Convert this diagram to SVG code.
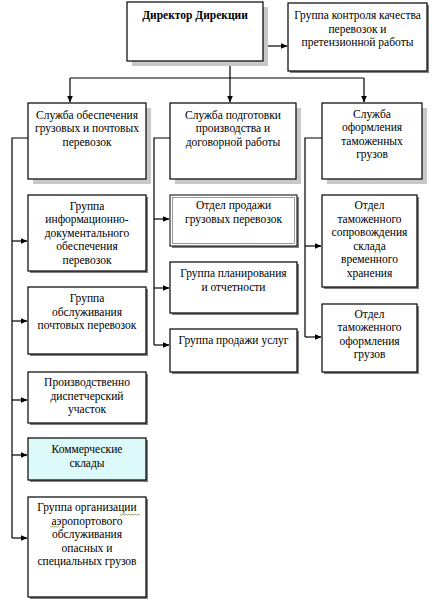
<svg xmlns="http://www.w3.org/2000/svg" width="435" height="602" viewBox="0 0 435 602">
<style>
.box{fill:#fff;stroke:#000;stroke-width:1.2}
.sh1{fill:#c8c8c8}
.sh2{fill:#808080}
.t{font-family:"Liberation Serif","Times New Roman",serif;font-size:11.5px;fill:#000;text-anchor:middle;dominant-baseline:central}
.b{font-weight:bold}
.c{fill:none;stroke:#000;stroke-width:1.2}
.sq{fill:none;stroke:#8a8a40;stroke-width:0.8}
</style>
<defs>
<marker id="ah" markerWidth="7" markerHeight="6" refX="6.5" refY="3" orient="auto" markerUnits="userSpaceOnUse">
<path d="M0,0 L7,3 L0,6 Z" fill="#000"/>
</marker>
</defs>
<rect width="435" height="602" fill="#fff"/>

<g id="connectors">
<path class="c" d="M263,46 H287" marker-end="url(#ah)"/>
<path class="c" d="M230,61 V78 M70,78 H364"/>
<path class="c" d="M70,78 V102" marker-end="url(#ah)"/>
<path class="c" d="M230,78 V102" marker-end="url(#ah)"/>
<path class="c" d="M364,78 V102" marker-end="url(#ah)"/>
<path class="c" d="M28,138 H12 V538"/>
<path class="c" d="M12,241 H27" marker-end="url(#ah)"/>
<path class="c" d="M12,321 H27" marker-end="url(#ah)"/>
<path class="c" d="M12,400 H27" marker-end="url(#ah)"/>
<path class="c" d="M12,455 H27" marker-end="url(#ah)"/>
<path class="c" d="M12,538 H27" marker-end="url(#ah)"/>
<path class="c" d="M170,138 H154 V345"/>
<path class="c" d="M154,219 H169" marker-end="url(#ah)"/>
<path class="c" d="M154,288 H169" marker-end="url(#ah)"/>
<path class="c" d="M154,345 H169" marker-end="url(#ah)"/>
<path class="c" d="M322,138 H305 V337"/>
<path class="c" d="M305,246 H321" marker-end="url(#ah)"/>
<path class="c" d="M305,337 H321" marker-end="url(#ah)"/>
</g>

<g id="director">
<rect class="sh1" x="132" y="7" width="136" height="59"/>
<rect class="box" x="127" y="2" width="136" height="59"/>
<text class="t b" x="195" y="15">Директор Дирекции</text>
</g>
<g id="control">
<rect class="sh2" x="290" y="5" width="139" height="68"/>
<rect class="box" x="288" y="3" width="139" height="68"/>
<text class="t" x="357.5" y="15">Группа контроля качества</text>
<text class="t" x="357.5" y="28.5">перевозок и</text>
<text class="t" x="357.5" y="42">претензионной работы</text>
</g>

<g id="s1">
<rect class="sh1" x="33" y="108" width="118" height="76"/>
<rect class="box" x="28" y="103" width="118" height="76"/>
<text class="t" x="87" y="114.5">Служба обеспечения</text>
<text class="t" x="87" y="128">грузовых и почтовых</text>
<text class="t" x="87" y="141.5">перевозок</text>
</g>
<g id="s2">
<rect class="sh1" x="175" y="108" width="126" height="76"/>
<rect class="box" x="170" y="103" width="126" height="76"/>
<text class="t" x="233" y="114.5">Служба подготовки</text>
<text class="t" x="233" y="128">производства и</text>
<text class="t" x="233" y="141.5">договорной работы</text>
</g>
<g id="s3">
<rect class="sh1" x="327" y="108" width="100" height="76"/>
<rect class="box" x="322" y="103" width="100" height="76"/>
<text class="t" x="372" y="113.5">Служба</text>
<text class="t" x="372" y="127">оформления</text>
<text class="t" x="372" y="140.5">таможенных</text>
<text class="t" x="372" y="154">грузов</text>
</g>

<g id="g1">
<rect class="sh2" x="30" y="197" width="118" height="76"/>
<rect class="box" x="28" y="195" width="118" height="76"/>
<text class="t" x="87" y="205.5">Группа</text>
<text class="t" x="87" y="219">информационно-</text>
<text class="t" x="87" y="232.5">документального</text>
<text class="t" x="87" y="246">обеспечения</text>
<text class="t" x="87" y="259.5">перевозок</text>
</g>
<g id="g2">
<rect class="sh2" x="30" y="289" width="118" height="67"/>
<rect class="box" x="28" y="287" width="118" height="67"/>
<text class="t" x="87" y="298">Группа</text>
<text class="t" x="87" y="311.5">обслуживания</text>
<text class="t" x="87" y="325">почтовых перевозок</text>
</g>
<g id="p1">
<rect class="sh2" x="30" y="374" width="118" height="51"/>
<rect class="box" x="28" y="372" width="118" height="51"/>
<text class="t" x="87" y="382">Производственно</text>
<text class="t" x="87" y="395.5">диспетчерский</text>
<text class="t" x="87" y="409">участок</text>
</g>
<g id="p2">
<rect class="sh2" x="30" y="440" width="118" height="42"/>
<rect class="box" x="28" y="438" width="118" height="42" style="fill:#dcfafa"/>
<text class="t" x="87" y="449">Коммерческие</text>
<text class="t" x="87" y="462.5">склады</text>
</g>
<g id="p3">
<rect class="sh2" x="30" y="499" width="118" height="100"/>
<rect class="box" x="28" y="497" width="118" height="100"/>
<text class="t" x="87" y="507">Группа организации</text>
<text class="t" x="87" y="520.5">аэропортового</text>
<text class="t" x="87" y="534">обслуживания</text>
<text class="t" x="87" y="547.5">опасных и</text>
<text class="t" x="87" y="561">специальных грузов</text>
<path class="sq" d="M120,514 l1.5,1.2 l1.5,-1.2 l1.5,1.2 l1.5,-1.2 l1.5,1.2 l1.5,-1.2 l1.5,1.2 l1.5,-1.2 l1.5,1.2 l1.5,-1.2 l1.5,1.2 l1.5,-1.2 l1.5,1.2"/>
<path class="sq" d="M50,526 l1.5,1.2 l1.5,-1.2 l1.5,1.2 l1.5,-1.2 l1.5,1.2 l1.5,-1.2"/>
</g>

<g id="m1">
<rect class="sh2" x="172" y="197" width="127" height="51"/>
<rect x="170" y="195" width="127" height="51" fill="#fff" stroke="#000" stroke-width="1"/>
<rect x="172.5" y="197.5" width="122" height="46" fill="none" stroke="#555" stroke-width="0.6"/>
<text class="t" x="233.5" y="205">Отдел продажи</text>
<text class="t" x="233.5" y="219">грузовых перевозок</text>
</g>
<g id="m2">
<rect class="sh2" x="172" y="264" width="127" height="51"/>
<rect class="box" x="170" y="262" width="127" height="51"/>
<text class="t" x="233.5" y="273">Группа планирования</text>
<text class="t" x="233.5" y="287">и отчетности</text>
</g>
<g id="m3">
<rect class="sh2" x="172" y="331" width="127" height="43"/>
<rect class="box" x="170" y="329" width="127" height="43"/>
<text class="t" x="233.5" y="340">Группа продажи услуг</text>
</g>

<g id="r1">
<rect class="sh2" x="324" y="197" width="95" height="92"/>
<rect class="box" x="322" y="195" width="95" height="92"/>
<text class="t" x="369.5" y="205">Отдел</text>
<text class="t" x="369.5" y="218.5">таможенного</text>
<text class="t" x="369.5" y="232">сопровождения</text>
<text class="t" x="369.5" y="245.5">склада</text>
<text class="t" x="369.5" y="259">временного</text>
<text class="t" x="369.5" y="272.5">хранения</text>
</g>
<g id="r2">
<rect class="sh2" x="324" y="306" width="95" height="68"/>
<rect class="box" x="322" y="304" width="95" height="68"/>
<text class="t" x="369.5" y="313.5">Отдел</text>
<text class="t" x="369.5" y="327">таможенного</text>
<text class="t" x="369.5" y="340.5">оформления</text>
<text class="t" x="369.5" y="354">грузов</text>
</g>
</svg>
